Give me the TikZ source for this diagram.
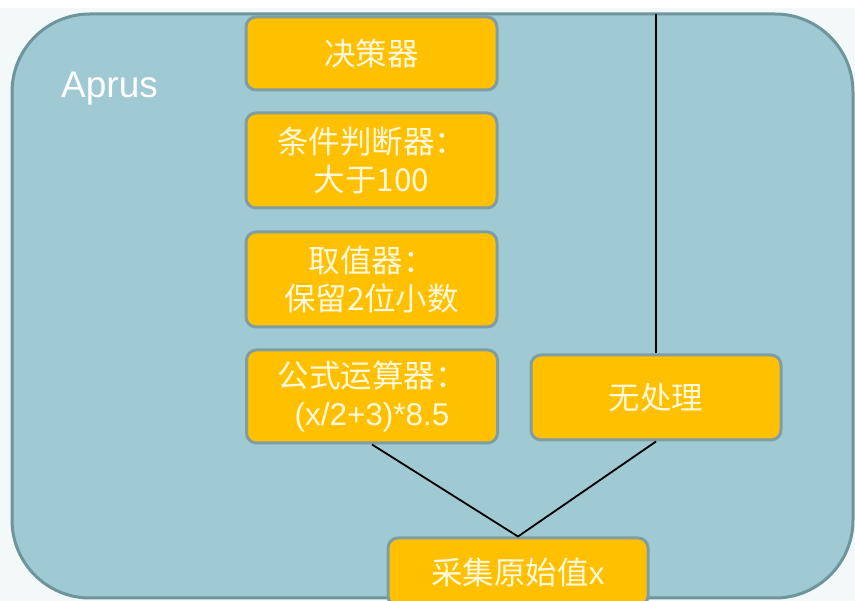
\documentclass[tikz,border=0pt]{standalone}
\usepackage{fontspec}
\setmainfont{Liberation Sans}
\newfontfamily\cjk{Noto Sans CJK SC}
\definecolor{panelfill}{HTML}{9FC9D3}
\definecolor{panelline}{HTML}{6F959C}
\definecolor{boxfill}{HTML}{FFC000}
\definecolor{boxline}{HTML}{7F9EA3}
\definecolor{boxtext}{HTML}{FFF8DC}
\definecolor{outerbg}{HTML}{F3F8F9}
\begin{document}
\begin{tikzpicture}[x=1pt,y=-1pt,
  box/.style={draw=boxline, line width=3pt, fill=boxfill, rounded corners=10pt,
    text=boxtext, align=center, inner sep=0pt,
    font=\fontsize{31.5}{38}\selectfont},
  link/.style={draw=black, line width=1.8pt}]
\useasboundingbox (0,0) rectangle (855,601);
\fill[white] (0,0) rectangle (855,601);
\fill[outerbg] (0,8) rectangle (855,601);
\draw[panelline, line width=3pt, fill=panelfill, rounded corners=78pt] (12,14) rectangle (853,598);
\coordinate (top) at (655,14);
\node[anchor=base west, text=white, font=\fontsize{37}{40}\selectfont, inner sep=0pt] (aprus) at (61,98) {Aprus};
\node[box, minimum width=251pt, minimum height=73pt] (jc) at (371.5,53.5) {\cjk 决策器};
\node[box, minimum width=251pt, minimum height=95pt] (tj) at (371.5,160.5) {\cjk 条件判断器：\\ \cjk 大于100};
\node[box, minimum width=251pt, minimum height=95pt] (qz) at (371.5,279.5) {\cjk 取值器：\\ \cjk 保留2位小数};
\node[box, minimum width=251pt, minimum height=93pt] (gs) at (372,396.5) {\cjk 公式运算器：\\ (x/2+3)*8.5};
\node[box, minimum width=250pt, minimum height=85pt] (wcl) at (656,397.5) {\cjk 无处理};
\node[box, minimum width=260pt, minimum height=68pt] (cj) at (518,572) {\cjk 采集原始值\rmfamily x};
\draw[link] (gs.south) -- (cj.north) -- (wcl.south);
\draw[link] (wcl.north) -- (wcl.north |- top);
\end{tikzpicture}
\end{document}
